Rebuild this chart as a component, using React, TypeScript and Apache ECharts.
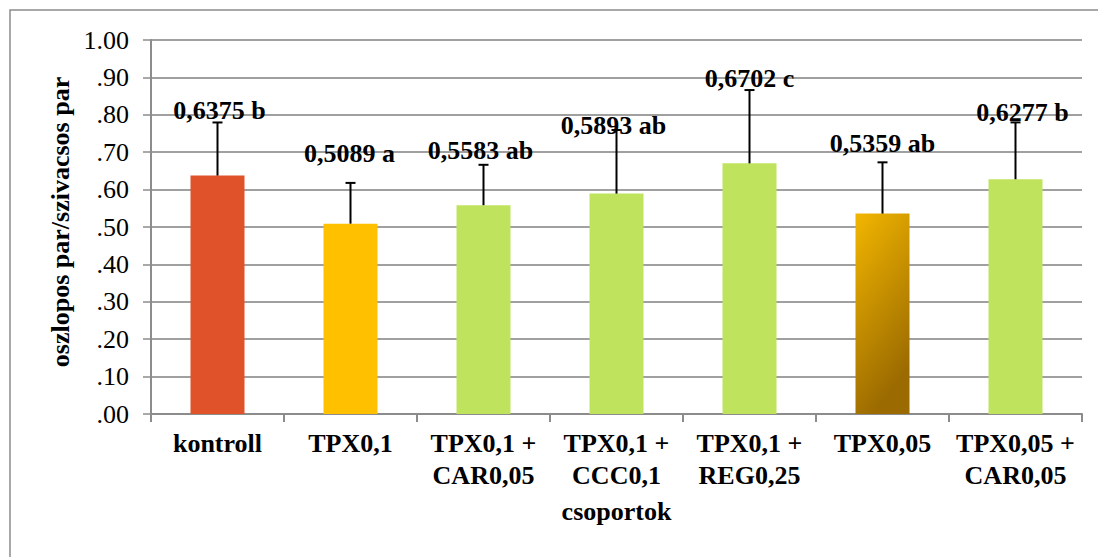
import React, { useEffect, useRef } from "react";
import * as echarts from "echarts";

// Groups on the category axis
const categories = [
  "kontroll",
  "TPX0,1",
  "TPX0,1 +\nCAR0,05",
  "TPX0,1 +\nCCC0,1",
  "TPX0,1 +\nREG0,25",
  "TPX0,05",
  "TPX0,05 +\nCAR0,05",
];

// Mean ratio per group
const means = [0.6375, 0.5089, 0.5583, 0.5893, 0.6702, 0.5359, 0.6277];

// Upper error (plus direction only)
const errorsPlus = [0.142, 0.109, 0.108, 0.17, 0.196, 0.137, 0.152];

// Significance letters
const letters = ["b", "a", "ab", "ab", "c", "ab", "b"];

// Y-axis tick range
const yMin = 0;
const yMax = 1;
const yStep = 0.1;

const FONT = "Liberation Serif, DejaVu Serif, Times New Roman, serif";

// Bar fills
const RED = "#E0532A";
const YELLOW = "#FFC000";
const GREEN = "#C0E35E";
const barFills: any[] = [
  RED,
  YELLOW,
  GREEN,
  GREEN,
  GREEN,
  new echarts.graphic.LinearGradient(0, 0, 0.35, 1, [
    { offset: 0, color: "#F2B600" },
    { offset: 1, color: "#9B6A00" },
  ]),
  GREEN,
];

// Per-label nudges [dx, lift above error cap] in pixels
const labelNudge: [number, number][] = [
  [2, 12],
  [-1, 29],
  [-3, 14],
  [-3, 5],
  [0, 12],
  [0, 19],
  [7, 10],
];

const fmtTick = (v: number) => {
  const s = v.toFixed(2);
  return s.startsWith("0.") ? s.slice(1) : s;
};

const fmtMean = (v: number) => v.toFixed(4).replace(".", ",");

export default function App() {
  const ref = useRef<HTMLDivElement>(null);

  useEffect(() => {
    document.body.style.margin = "0";
    if (!ref.current) return;
    const chart = echarts.init(ref.current, null, { renderer: "svg" });

    const errData = means.map((m, i) => [i, m, m + errorsPlus[i]]);

    const boldText = {
      fontFamily: FONT,
      fontSize: 26,
      fontWeight: "bold" as const,
    };

    chart.setOption({
      animation: false,
      backgroundColor: "#ffffff",
      textStyle: { fontFamily: FONT, color: "#000" },
      grid: { left: 151, right: 16, top: 40, bottom: 143, containLabel: false },
      graphic: [
        {
          type: "rect",
          shape: { x: 10, y: 10, width: 1200, height: 700 },
          style: { fill: "none", stroke: "#8c8c8c", lineWidth: 1.5 },
          silent: true,
          z: -10,
        },
        {
          type: "text",
          x: 60,
          y: 222,
          rotation: Math.PI / 2,
          style: {
            text: "oszlopos par/szivacsos par",
            ...boldText,
            fill: "#000",
            align: "center",
            verticalAlign: "middle",
          },
        },
      ],
      xAxis: {
        type: "category",
        data: categories,
        name: "csoportok",
        nameLocation: "middle",
        nameGap: 84,
        nameTextStyle: { ...boldText, color: "#000" },
        axisLine: { show: true, lineStyle: { color: "#8c8c8c", width: 2 } },
        axisTick: {
          show: true,
          alignWithLabel: false,
          length: 8,
          lineStyle: { color: "#8c8c8c", width: 2 },
        },
        axisLabel: {
          interval: 0,
          margin: 13,
          ...boldText,
          color: "#000",
          lineHeight: 32,
        },
        splitLine: { show: false },
      },
      yAxis: {
        type: "value",
        min: yMin,
        max: yMax,
        interval: yStep,
        axisLine: { show: true, lineStyle: { color: "#8c8c8c", width: 2 } },
        axisTick: {
          show: true,
          inside: false,
          length: 8,
          lineStyle: { color: "#8c8c8c", width: 1.5 },
        },
        axisLabel: {
          margin: 22,
          fontFamily: FONT,
          fontSize: 26,
          color: "#000",
          formatter: (v: number) => fmtTick(v),
        },
        splitLine: { show: true, lineStyle: { color: "#a0a0a0", width: 2 } },
      },
      series: [
        {
          type: "bar",
          barWidth: 54,
          data: means.map((m, i) => ({
            value: m,
            itemStyle: { color: barFills[i] },
          })),
          z: 2,
        },
        {
          type: "custom",
          z: 5,
          data: errData,
          encode: { x: 0, y: [1, 2] },
          renderItem: (params: any, api: any) => {
            const i = api.value(0);
            const base = api.coord([i, api.value(1)]);
            const top = api.coord([i, api.value(2)]);
            const cap = 5;
            const [dx, lift] = labelNudge[params.dataIndex];
            const label =
              fmtMean(means[params.dataIndex]) + " " + letters[params.dataIndex];
            return {
              type: "group",
              children: [
                {
                  type: "line",
                  shape: { x1: top[0], y1: base[1], x2: top[0], y2: top[1] },
                  style: { stroke: "#000", lineWidth: 2 },
                },
                {
                  type: "line",
                  shape: {
                    x1: top[0] - cap,
                    y1: top[1],
                    x2: top[0] + cap,
                    y2: top[1],
                  },
                  style: { stroke: "#000", lineWidth: 2 },
                },
                {
                  type: "text",
                  x: top[0] + dx,
                  y: top[1] - lift,
                  style: {
                    text: label,
                    ...boldText,
                    fill: "#000",
                    align: "center",
                    verticalAlign: "middle",
                  },
                },
              ],
            };
          },
        },
      ],
    });

    return () => chart.dispose();
  }, []);

  return <div ref={ref} style={{ width: 1098, height: 557 }} />;
}
